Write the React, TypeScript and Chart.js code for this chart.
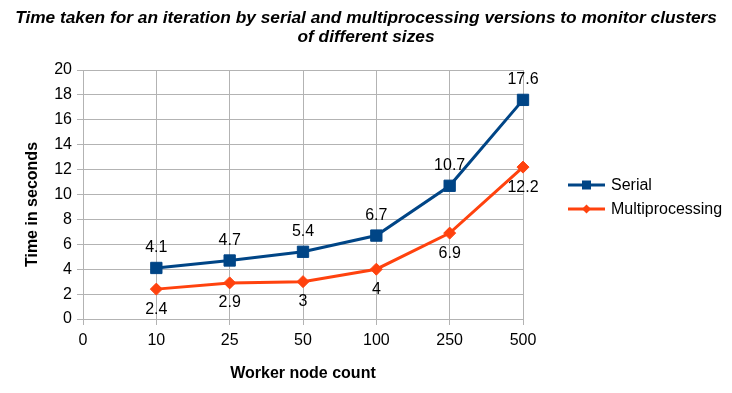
import React, { useEffect, useRef } from 'react';
import { Chart, registerables } from 'chart.js';

Chart.register(...registerables);

const categories = ['0', '10', '25', '50', '100', '250', '500'];
const serialTimes = [null, 4.1, 4.7, 5.4, 6.7, 10.7, 17.6];
const multiprocessingTimes = [null, 2.4, 2.9, 3, 4, 6.9, 12.2];
const seriesNames = ['Serial', 'Multiprocessing'];
const titleLines = [
  'Time taken for an iteration by serial and multiprocessing versions to monitor clusters',
  'of different sizes',
];
const xAxisTitle = 'Worker node count';
const yAxisTitle = 'Time in seconds';
const yMin = 0;
const yMax = 20;
const yStep = 2;

const FONT = '"Liberation Sans", Arial, Helvetica, sans-serif';
const SERIAL_COLOR = '#004586';
const MULTI_COLOR = '#ff420e';
const GRID = '#b3b3b3';

function drawMarker(ctx: CanvasRenderingContext2D, style: string, x: number, y: number, r: number, color: string) {
  ctx.save();
  ctx.fillStyle = color;
  ctx.beginPath();
  if (style === 'rect') {
    ctx.rect(x - r, y - r, 2 * r, 2 * r);
  } else {
    ctx.moveTo(x, y - r);
    ctx.lineTo(x + r, y);
    ctx.lineTo(x, y + r);
    ctx.lineTo(x - r, y);
    ctx.closePath();
  }
  ctx.fill();
  ctx.restore();
}

const decorations = {
  id: 'decorations',
  afterDatasetsDraw(chart: any) {
    const ctx: CanvasRenderingContext2D = chart.ctx;
    const area = chart.chartArea;
    ctx.save();

    // chart title
    ctx.fillStyle = '#000';
    ctx.textAlign = 'center';
    ctx.textBaseline = 'middle';
    ctx.font = `italic bold 17.3px ${FONT}`;
    titleLines.forEach((line, k) => {
      ctx.fillText(line, chart.width / 2, 18 + k * 19);
    });

    // data labels
    ctx.font = `16px ${FONT}`;
    chart.data.datasets.forEach((ds: any, i: number) => {
      const meta = chart.getDatasetMeta(i);
      meta.data.forEach((pt: any, j: number) => {
        const v = ds.data[j];
        if (v == null) return;
        const dy = i === 0 ? -20 : 20;
        ctx.fillText(String(v), pt.x, pt.y + dy);
      });
    });

    // y axis title
    ctx.save();
    ctx.translate(area.left - 50, (area.top + area.bottom) / 2 + 10);
    ctx.rotate(-Math.PI / 2);
    ctx.font = `bold 16px ${FONT}`;
    ctx.fillText(yAxisTitle, 0, 0);
    ctx.restore();

    // legend
    const lx = area.right + 45;
    const midY = (area.top + area.bottom) / 2 + 2.5;
    const entries = [
      { name: seriesNames[0], color: SERIAL_COLOR, style: 'rect', r: 4.5 },
      { name: seriesNames[1], color: MULTI_COLOR, style: 'diamond', r: 4.5 },
    ];
    entries.forEach((e, k) => {
      const y = midY - 12 + k * 24;
      ctx.strokeStyle = e.color;
      ctx.lineWidth = 3;
      ctx.beginPath();
      ctx.moveTo(lx, y);
      ctx.lineTo(lx + 37, y);
      ctx.stroke();
      drawMarker(ctx, e.style, lx + 18.5, y, e.r, e.color);
      ctx.fillStyle = '#000';
      ctx.textAlign = 'left';
      ctx.font = `16px ${FONT}`;
      ctx.fillText(e.name, lx + 43, y + 1);
    });
    ctx.restore();
  },
};

export default function App() {
  const canvasRef = useRef<HTMLCanvasElement | null>(null);

  useEffect(() => {
    const canvas = canvasRef.current;
    if (!canvas) return;
    const chart = new Chart(canvas, {
      type: 'line',
      data: {
        labels: categories,
        datasets: [
          {
            label: seriesNames[0],
            data: serialTimes,
            borderColor: SERIAL_COLOR,
            backgroundColor: SERIAL_COLOR,
            borderWidth: 3,
            pointStyle: 'rect',
            pointRadius: 8,
            pointHoverRadius: 8,
            pointBorderWidth: 1,
            pointBackgroundColor: SERIAL_COLOR,
            pointBorderColor: SERIAL_COLOR,
            tension: 0,
          },
          {
            label: seriesNames[1],
            data: multiprocessingTimes,
            borderColor: MULTI_COLOR,
            backgroundColor: MULTI_COLOR,
            borderWidth: 3,
            pointStyle: 'rectRot',
            pointRadius: 6,
            pointHoverRadius: 6,
            pointBorderWidth: 1,
            pointBackgroundColor: MULTI_COLOR,
            pointBorderColor: MULTI_COLOR,
            tension: 0,
          },
        ],
      },
      options: {
        responsive: false,
        animation: false,
        layout: { padding: { top: 70, right: 209, bottom: 0, left: 0 } },
        plugins: {
          legend: { display: false },
          tooltip: { enabled: false },
          title: { display: false },
        },
        scales: {
          x: {
            type: 'category',
            offset: false,
            grid: { color: GRID, tickColor: GRID, tickLength: 6, lineWidth: 1 },
            border: { color: GRID },
            ticks: {
              color: '#000',
              font: { family: FONT, size: 16 },
              padding: 6,
              maxRotation: 0,
              autoSkip: false,
            },
            title: {
              display: true,
              text: xAxisTitle,
              color: '#000',
              font: { family: FONT, size: 16, weight: 'bold' },
              padding: { top: 0, bottom: 10 },
            },
            afterFit: (s: any) => {
              s.height = 74;
            },
          },
          y: {
            min: yMin,
            max: yMax,
            grid: { color: GRID, tickColor: GRID, tickLength: 6, lineWidth: 1 },
            border: { color: GRID },
            ticks: {
              stepSize: yStep,
              color: '#000',
              font: { family: FONT, size: 16 },
              padding: 5,
            },
            afterFit: (s: any) => {
              s.width = 83;
            },
          },
        },
      },
      plugins: [decorations],
    } as any);
    return () => chart.destroy();
  }, []);

  return (
    <div style={{ position: 'absolute', left: 0, top: 0, width: 732, height: 393, background: '#fff' }}>
      <canvas ref={canvasRef} width={732} height={393} />
    </div>
  );
}
